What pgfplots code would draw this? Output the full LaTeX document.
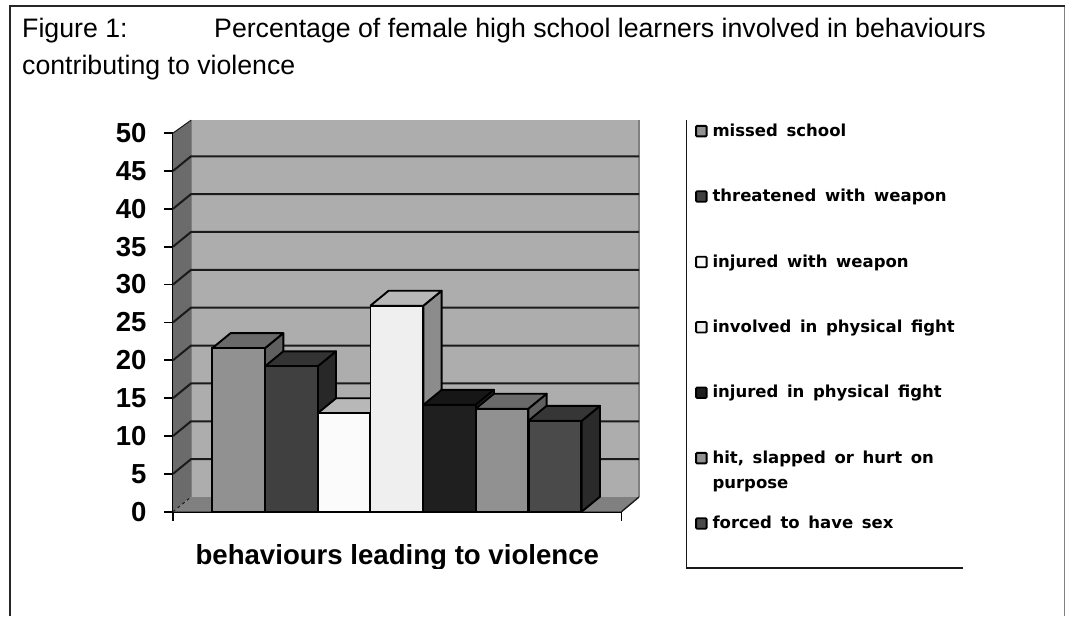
\documentclass[border=0pt]{standalone}
\usepackage{fontspec}
\usepackage{pgfplots}
\pgfplotsset{compat=1.18}
\setmainfont{Liberation Sans}
\newfontfamily\legfont[WordSpace=1.5]{DejaVu Sans}

\definecolor{wallback}{HTML}{ADADAD}
\definecolor{wallleft}{HTML}{6B6B6B}
\definecolor{wallfloor}{HTML}{808080}
\definecolor{gridc}{HTML}{1A1A1A}
\definecolor{frontA}{HTML}{919191}
\definecolor{sideA}{HTML}{5F5F5F}
\definecolor{topA}{HTML}{6A6A6A}
\definecolor{frontB}{HTML}{404040}
\definecolor{sideB}{HTML}{282828}
\definecolor{topB}{HTML}{333333}
\definecolor{frontC}{HTML}{FBFBFB}
\definecolor{topC}{HTML}{B8B8B8}
\definecolor{frontD}{HTML}{EFEFEF}
\definecolor{sideD}{HTML}{8C8C8C}
\definecolor{topD}{HTML}{B8B8B8}
\definecolor{frontE}{HTML}{1F1F1F}
\definecolor{topE}{HTML}{161616}
\definecolor{frontG}{HTML}{4A4A4A}
\definecolor{sideG}{HTML}{2A2A2A}
\definecolor{topG}{HTML}{363636}

\pgfplotsset{
  face/.style={forget plot, line width=1.9pt, draw=black, line join=round, mark=none},
  wall/.style={forget plot, draw=none, mark=none},
  gridl/.style={forget plot, draw=gridc, line width=2pt, mark=none},
  bar3/.style={ybar, bar width=52.7pt, bar shift=0pt, draw=black, line width=1.9pt,
    legend image code/.code={\draw[fill=#1, draw=black, line width=1.8pt, rounded corners=1pt] (0pt,-3.5pt) rectangle (10.5pt,7pt);}},
}

\begin{document}
\begin{tikzpicture}[x=1pt,y=1pt]
\useasboundingbox (0,0) rectangle (1065,616);

% frame of the figure
\draw[line width=1.5pt, gray] (1064.3,610) -- (1064.3,0);
\draw[line width=2.6pt, black!85] (10,0) -- (10,610) -- (1065,610);

% title
\node[anchor=base west, inner sep=0pt, font=\fontsize{26.7}{30}\selectfont] at (22,578) {Figure 1:};
\node[anchor=base west, inner sep=0pt, font=\fontsize{26.7}{30}\selectfont] at (214,578) {Percentage of female high school learners involved in behaviours};
\node[anchor=base west, inner sep=0pt, font=\fontsize{26.7}{30}\selectfont] at (22,541) {contributing to violence};

\begin{axis}[
  at={(173pt,104.3pt)}, anchor=south west,
  scale only axis, width=448.5pt, height=378.6pt,
  xmin=-224, xmax=224.5, ymin=0, ymax=50,
  clip=false,
  axis x line=bottom, axis y line=left,
  axis line style={-, line width=2pt, draw=black},
  tick style={line width=1.8pt, draw=black},
  tick align=outside, major tick length=9pt,
  xtick={-224,224.5}, xticklabels={,},
  ytick={0,5,...,50},
  /pgf/number format/assume math mode=true,
  ticklabel style={font=\fontsize{27.5}{30}\bfseries},
  yticklabel style={xshift=-14pt},
  xlabel={behaviours leading to violence},
  xlabel style={at={(axis description cs:0.5,0)}, anchor=center, yshift=-46pt, font=\fontsize{27.6}{30}\bfseries},
  legend style={at={(axis cs:298,51.1)}, anchor=north west, draw=none, fill=none,
    inner sep=0pt, row sep=50pt, font=\legfont\fontsize{16.5}{20}\bfseries,
    nodes={inner sep=0pt, text height=11pt, text depth=4pt},
    column sep=5pt},
  legend cell align=left,
]

% walls
\addplot[wall, fill=wallback] coordinates {(-206,1.94) (242,1.94) (242,51.7) (-206,51.7) (-206,1.94)};
\addplot[wall, fill=wallleft] coordinates {(-224,0) (-206,1.94) (-206,51.7) (-224,50) (-224,0)};
\addplot[wall, fill=wallfloor] coordinates {(-224,0) (224.5,0) (242,1.94) (-206,1.94) (-224,0)};
\addplot[forget plot, draw=gray, line width=1.2pt, mark=none] coordinates {(242,1.94) (242,51.7)};
\addplot[forget plot, draw=black!50, line width=0.8pt, mark=none] coordinates {(-206,1.94) (-206,51.7)};

% gridlines, back wall and left wall
\addplot[gridl] coordinates {(-224,5) (-206,6.94) (242,6.94)};
\addplot[gridl] coordinates {(-224,10) (-206,11.94) (242,11.94)};
\addplot[gridl] coordinates {(-224,15) (-206,16.94) (242,16.94)};
\addplot[gridl] coordinates {(-224,20) (-206,21.94) (242,21.94)};
\addplot[gridl] coordinates {(-224,25) (-206,26.94) (242,26.94)};
\addplot[gridl] coordinates {(-224,30) (-206,31.94) (242,31.94)};
\addplot[gridl] coordinates {(-224,35) (-206,36.94) (242,36.94)};
\addplot[gridl] coordinates {(-224,40) (-206,41.94) (242,41.94)};
\addplot[gridl] coordinates {(-224,45) (-206,46.94) (242,46.94)};
\addplot[forget plot, draw=gridc, line width=1pt, mark=none] coordinates {(-224,50) (-206,51.7)};
\addplot[forget plot, draw=gridc, line width=1pt, dashed, mark=none] coordinates {(-224,0) (-206,1.94)};
\addplot[forget plot, draw=gridc, line width=1.4pt, mark=none] coordinates {(224.5,0) (242,1.94)};

% missed school
\addplot[face, fill=sideA] coordinates {(-132,0) (-113.7,1.98) (-113.7,23.58) (-132,21.6) (-132,0)};
\addplot[face, fill=topA] coordinates {(-184.7,21.6) (-166.4,23.58) (-113.7,23.58) (-132,21.6) (-184.7,21.6)};
\addplot[bar3, fill=frontA] coordinates {(-158.35,21.6)};
\addlegendentry{missed school}

% threatened with weapon
\addplot[face, fill=sideB] coordinates {(-79.3,0) (-61,1.98) (-61,21.18) (-79.3,19.2) (-79.3,0)};
\addplot[face, fill=topB] coordinates {(-132,19.2) (-113.7,21.18) (-61,21.18) (-79.3,19.2) (-132,19.2)};
\addplot[bar3, fill=frontB] coordinates {(-105.65,19.2)};
\addlegendentry{threatened with weapon}

% injured with weapon
\addplot[face, fill=topC] coordinates {(-79.3,13) (-61,14.98) (-8.4,14.98) (-26.7,13) (-79.3,13)};
\addplot[bar3, fill=frontC] coordinates {(-53,13)};
\addlegendentry{injured with weapon}

% involved in physical fight
\addplot[face, fill=sideD] coordinates {(26.3,0) (44.6,1.98) (44.6,29.18) (26.3,27.2) (26.3,0)};
\addplot[face, fill=topD] coordinates {(-26.7,27.2) (-8.4,29.18) (44.6,29.18) (26.3,27.2) (-26.7,27.2)};
\addplot[bar3, fill=frontD] coordinates {(-0.2,27.2)};
\addlegendentry{involved in physical fight}

% injured in physical fight
\addplot[face, fill=topE] coordinates {(26.3,14.1) (44.6,16.08) (97,16.08) (78.7,14.1) (26.3,14.1)};
\addplot[face, fill=sideB] coordinates {(78.7,0) (97,1.98) (97,16.08) (78.7,14.1) (78.7,0)};
\addplot[bar3, fill=frontE] coordinates {(52.5,14.1)};
\addlegendentry{injured in physical fight}

% hit, slapped or hurt on purpose
\addplot[face, fill=sideA] coordinates {(131.3,0) (149.6,1.98) (149.6,15.58) (131.3,13.6) (131.3,0)};
\addplot[face, fill=topA] coordinates {(78.7,13.6) (97,15.58) (149.6,15.58) (131.3,13.6) (78.7,13.6)};
\addplot[bar3, fill=frontA] coordinates {(105,13.6)};
\addlegendentry{\makebox[0pt][l]{\raisebox{-25pt}{purpose}}hit, slapped or hurt on}

% forced to have sex
\addplot[face, fill=sideG] coordinates {(184.7,0) (203,1.98) (203,13.98) (184.7,12) (184.7,0)};
\addplot[face, fill=topG] coordinates {(131.3,12) (149.6,13.98) (203,13.98) (184.7,12) (131.3,12)};
\addplot[bar3, fill=frontG] coordinates {(158,12)};
\addlegendentry{forced to have sex}

\end{axis}

% legend box, open at the top and at the right
\draw[line width=1.4pt, black!90] (686.5,496) -- (686.5,48) -- (963,48);
% the lower edge of the axis title is cut off
\fill[white] (150,0) rectangle (640,47);
\end{tikzpicture}
\end{document}
